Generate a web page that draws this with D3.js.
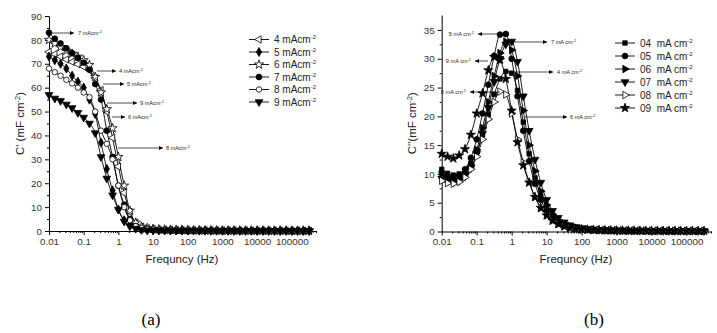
<!DOCTYPE html>
<html>
<head>
<meta charset="utf-8">
<script src="https://cdn.jsdelivr.net/npm/d3@7"></script>
<style>
body { margin: 0; background: #fff; }
svg { font-family: "Liberation Sans", Arial, sans-serif; }
</style>
</head>
<body>
<div id="chart"></div>
<script>
// Frequencies (Hz), shared by all series
var freqs = [0.01, 0.0147, 0.0215, 0.0316, 0.0464, 0.0681, 0.1, 0.147, 0.215, 0.316, 0.464, 0.681,
	1, 1.47, 2.15, 3.16, 4.64, 6.81, 10, 14.7, 21.5, 31.6, 46.4, 68.1, 100, 147, 215, 316, 464, 681,
	1000, 1470, 2150, 3160, 4640, 6810, 10000, 14700, 21500, 31600, 46400, 68100, 100000, 147000, 215000, 316000];

// (a) C' (mF cm-2)
var cp4 = [75, 74, 73, 71.8, 70.8, 69.8, 68.8, 67.3, 64, 59, 50, 39, 27, 16, 8, 3.5, 1.8, 1.1,
	0.8, 0.6, 0.5, 0.45, 0.4, 0.35, 0.32, 0.3, 0.28, 0.26, 0.25, 0.24, 0.22, 0.21, 0.2, 0.2, 0.19, 0.18, 0.17, 0.17, 0.16, 0.16, 0.15, 0.15, 0.14, 0.14, 0.13, 0.13];
var cp5 = [73, 71.5, 70, 68, 65, 62.5, 60, 55, 49, 37, 26, 17, 9, 4.5, 2.3, 1.2, 0.7, 0.5,
	0.4, 0.35, 0.3, 0.28, 0.26, 0.24, 0.22, 0.2, 0.19, 0.18, 0.17, 0.16, 0.15, 0.15, 0.14, 0.14, 0.13, 0.13, 0.12, 0.12, 0.11, 0.11, 0.1, 0.1, 0.1, 0.1, 0.09, 0.09];
var cp6 = [80, 78.5, 77, 75.5, 74.2, 73, 71.5, 69.5, 64.5, 58, 51, 43, 31, 19, 8.5, 3.5, 1.8, 1.2,
	0.9, 0.7, 0.6, 0.5, 0.45, 0.4, 0.36, 0.33, 0.3, 0.28, 0.26, 0.25, 0.24, 0.23, 0.22, 0.21, 0.2, 0.2, 0.19, 0.19, 0.18, 0.18, 0.17, 0.17, 0.16, 0.16, 0.15, 0.15];
var cp7 = [83, 80.5, 78.5, 76.5, 74.5, 72.5, 70.5, 67.5, 61.5, 55, 42, 31, 19, 11, 5, 2, 1, 0.6,
	0.45, 0.4, 0.35, 0.3, 0.28, 0.26, 0.24, 0.22, 0.2, 0.19, 0.18, 0.17, 0.16, 0.15, 0.15, 0.14, 0.14, 0.13, 0.13, 0.12, 0.12, 0.11, 0.11, 0.1, 0.1, 0.1, 0.1, 0.1];
var cp8 = [68, 66.5, 65, 63.3, 61.8, 60, 58, 56, 50, 42, 36.5, 30, 19, 10, 4.5, 2, 1.2, 0.8,
	0.6, 0.5, 0.45, 0.4, 0.36, 0.33, 0.3, 0.28, 0.26, 0.24, 0.22, 0.21, 0.2, 0.19, 0.18, 0.18, 0.17, 0.16, 0.16, 0.15, 0.15, 0.14, 0.14, 0.13, 0.13, 0.12, 0.12, 0.12];
var cp9 = [57, 55.5, 54.5, 53, 51.5, 49.5, 47.5, 45, 41, 31, 22, 15, 9, 4, 2, 1, 0.5, 0.35,
	0.3, 0.28, 0.25, 0.23, 0.21, 0.2, 0.19, 0.18, 0.17, 0.16, 0.15, 0.15, 0.14, 0.14, 0.13, 0.13, 0.12, 0.12, 0.11, 0.11, 0.1, 0.1, 0.1, 0.1, 0.09, 0.09, 0.09, 0.09];

// (b) C'' (mF cm-2)
var cpp4 = [10.8, 10.1, 9.8, 10.0, 10.6, 11.8, 13.8, 16.8, 20.3, 23.8, 26.5, 27.8, 27.5, 24.5, 19, 13.5, 9.3, 6.2,
	4.1, 2.7, 1.8, 1.2, 0.85, 0.6, 0.45, 0.38, 0.32, 0.28, 0.25, 0.22, 0.2, 0.18, 0.17, 0.16, 0.15, 0.14, 0.13, 0.13, 0.12, 0.12, 0.11, 0.11, 0.1, 0.1, 0.1, 0.1];
var cpp5 = [10.3, 9.6, 9.4, 9.8, 10.8, 12.8, 16, 20.5, 25.5, 30.5, 34.2, 34.3, 30, 23.5, 17.5, 12.2, 8.3, 5.5,
	3.6, 2.4, 1.6, 1.1, 0.8, 0.6, 0.45, 0.37, 0.31, 0.27, 0.24, 0.21, 0.19, 0.17, 0.16, 0.15, 0.14, 0.13, 0.13, 0.12, 0.12, 0.11, 0.11, 0.1, 0.1, 0.1, 0.1, 0.1];
var cpp6 = [9.8, 9.2, 9.0, 9.3, 10.1, 11.6, 14.2, 18, 22.5, 27, 31, 33, 31.5, 27, 21, 15, 10.5, 7,
	4.6, 3, 2, 1.4, 1, 0.7, 0.5, 0.4, 0.34, 0.3, 0.26, 0.23, 0.21, 0.19, 0.18, 0.17, 0.16, 0.15, 0.14, 0.14, 0.13, 0.13, 0.12, 0.12, 0.11, 0.11, 0.11, 0.1];
var cpp7 = [9.2, 8.7, 8.5, 8.8, 9.6, 11, 13.5, 17, 21.5, 26, 30, 32.5, 33, 29.5, 23.5, 17.5, 12.5, 8.5,
	5.5, 3.6, 2.4, 1.6, 1.1, 0.8, 0.6, 0.45, 0.37, 0.31, 0.27, 0.24, 0.21, 0.19, 0.18, 0.17, 0.16, 0.15, 0.14, 0.14, 0.13, 0.13, 0.12, 0.12, 0.11, 0.11, 0.1, 0.1];
var cpp8 = [8.8, 8.4, 8.3, 8.6, 9.4, 10.8, 13, 16, 19.5, 22.5, 24.3, 23.8, 20.5, 16, 12, 8.6, 6, 4.1,
	2.8, 1.9, 1.3, 0.9, 0.65, 0.5, 0.4, 0.33, 0.28, 0.25, 0.22, 0.2, 0.18, 0.17, 0.16, 0.15, 0.14, 0.13, 0.13, 0.12, 0.12, 0.11, 0.11, 0.1, 0.1, 0.1, 0.1, 0.1];
var cpp9 = [13.5, 13.0, 12.7, 13.2, 14.3, 16.8, 20.5, 24, 28, 30.3, 29.8, 26.5, 21, 15.5, 11.5, 8.5, 6, 4.1,
	2.8, 1.9, 1.3, 0.9, 0.65, 0.5, 0.4, 0.33, 0.28, 0.25, 0.22, 0.2, 0.18, 0.17, 0.16, 0.15, 0.14, 0.13, 0.13, 0.12, 0.12, 0.11, 0.11, 0.1, 0.1, 0.1, 0.1, 0.1];

// Labels and ticks
var leftLabels = ["4 mAcm", "5 mAcm", "6 mAcm", "7 mAcm", "8 mAcm", "9 mAcm"];
var rightLabels = ["04  mA cm", "05  mA cm", "06  mA cm", "07  mA cm", "08  mA cm", "09  mA cm"];
var xTickValues = [0.01, 0.1, 1, 10, 100, 1000, 10000, 100000];
var xTickLabels = ["0.01", "0.1", "1", "10", "100", "1000", "10000", "100000"];
var leftYTicks = [0, 10, 20, 30, 40, 50, 60, 70, 80, 90];
var rightYTicks = [0, 5, 10, 15, 20, 25, 30, 35];

var svg = d3.select("#chart").append("svg")
	.attr("width", 717)
	.attr("height", 333);

var defs = svg.append("defs");
defs.append("marker")
	.attr("id", "arr")
	.attr("viewBox", "0 0 10 10")
	.attr("refX", 10).attr("refY", 5)
	.attr("markerUnits", "userSpaceOnUse")
	.attr("markerWidth", 5).attr("markerHeight", 4)
	.attr("orient", "auto")
	.append("path").attr("d", "M0,0L10,5L0,10Z").attr("fill", "#000");

// marker shapes
var shapes = {
	triL:    { type: d3.symbolTriangle, size: 24, rot: -90, fill: "#fff" },
	diamond: { type: d3.symbolDiamond, size: 24, rot: 0, fill: "#000" },
	starO:   { type: d3.symbolStar, size: 26, rot: 0, fill: "#fff" },
	circle:  { type: d3.symbolCircle, size: 26, rot: 0, fill: "#000" },
	circleO: { type: d3.symbolCircle, size: 24, rot: 0, fill: "#fff" },
	triD:    { type: d3.symbolTriangle, size: 26, rot: 180, fill: "#000" },
	square:  { type: d3.symbolSquare, size: 20, rot: 0, fill: "#000" },
	triR:    { type: d3.symbolTriangle, size: 24, rot: 90, fill: "#000" },
	triRO:   { type: d3.symbolTriangle, size: 24, rot: 90, fill: "#fff" },
	star:    { type: d3.symbolStar, size: 26, rot: 0, fill: "#000" }
};

function drawMarker(g, shape, x, y) {
	var s = shapes[shape];
	g.append("path")
		.attr("d", d3.symbol().type(s.type).size(s.size)())
		.attr("transform", "translate(" + x + "," + y + ") rotate(" + s.rot + ")")
		.attr("fill", s.fill)
		.attr("stroke", "#000")
		.attr("stroke-width", 0.8);
}

function drawPanel(cfg) {
	var x = d3.scaleLog().domain([0.01, 500000]).range([cfg.left, cfg.right]);
	var y = d3.scaleLinear().domain([0, cfg.yMax]).range([cfg.bottom, cfg.top]);
	var g = svg.append("g");

	// minor x ticks
	var minors = [];
	for (var d = 0.01; d < 500000; d *= 10) {
		for (var k = 2; k <= 9; k++) { if (d * k <= 500000) minors.push(d * k); }
	}
	g.append("g").attr("transform", "translate(0," + cfg.bottom + ")")
		.call(d3.axisBottom(x).tickValues(minors).tickFormat("").tickSize(2).tickSizeOuter(0))
		.call(function(a) { a.select(".domain").remove(); });
	g.append("g").attr("transform", "translate(0," + cfg.bottom + ")")
		.call(d3.axisBottom(x).tickValues(xTickValues)
			.tickFormat(function(d, i) { return xTickLabels[i]; })
			.tickSize(4).tickSizeOuter(0).tickPadding(3))
		.call(function(a) {
			a.selectAll("text").attr("font-size", 9.8).attr("fill", "#333")
				.attr("font-family", "'Liberation Sans', Arial, sans-serif");
		});

	// y axis
	var yMinor = cfg.yTicks.slice(0, -1).map(function(v, i) { return (v + cfg.yTicks[i + 1]) / 2; });
	g.append("g").attr("transform", "translate(" + cfg.left + ",0)")
		.call(d3.axisLeft(y).tickValues(yMinor).tickFormat("").tickSize(2).tickSizeOuter(0))
		.call(function(a) { a.select(".domain").remove(); });
	g.append("g").attr("transform", "translate(" + cfg.left + ",0)")
		.call(d3.axisLeft(y).tickValues(cfg.yTicks).tickSize(4).tickSizeOuter(0).tickPadding(3))
		.call(function(a) {
			a.selectAll("text").attr("font-size", 9.8).attr("fill", "#333")
				.attr("font-family", "'Liberation Sans', Arial, sans-serif");
		});

	// axis titles
	g.append("text")
		.attr("x", cfg.xTitleX).attr("y", 263)
		.attr("text-anchor", "middle").attr("font-size", 11.5).attr("fill", "#222")
		.text("Frequncy (Hz)");
	var yt = g.append("text")
		.attr("transform", "translate(" + cfg.yTitleX + "," + ((cfg.top + cfg.bottom) / 2) + ") rotate(-90)")
		.attr("text-anchor", "middle").attr("font-size", 11.5).attr("fill", "#222");
	yt.append("tspan").text(cfg.yTitle);
	yt.append("tspan").attr("dy", -4).attr("font-size", 7.5).text("-2");
	yt.append("tspan").attr("dy", 4).text(")");

	// series
	var line = d3.line()
		.x(function(d, i) { return x(freqs[i]); })
		.y(function(d) { return y(d); })
		.curve(d3.curveMonotoneX);
	cfg.series.forEach(function(s) {
		g.append("path").attr("d", line(s.values))
			.attr("fill", "none").attr("stroke", "#000").attr("stroke-width", 0.9);
	});
	cfg.series.forEach(function(s) {
		var mg = g.append("g");
		s.values.forEach(function(v, i) { drawMarker(mg, s.shape, x(freqs[i]), y(v)); });
	});

	// legend
	cfg.series.forEach(function(s, i) {
		var ly = cfg.legY + i * cfg.legStep;
		g.append("line").attr("x1", cfg.legX).attr("x2", cfg.legX + 20)
			.attr("y1", ly).attr("y2", ly).attr("stroke", "#000").attr("stroke-width", 0.9);
		drawMarker(g, s.shape, cfg.legX + 10, ly);
		var t = g.append("text").attr("x", cfg.legX + 25).attr("y", ly + 3.5)
			.attr("font-size", 10).attr("fill", "#222").style("white-space", "pre");
		t.append("tspan").text(cfg.labels[i]);
		t.append("tspan").attr("dy", -4).attr("font-size", 6).text("-2");
	});

	// annotations
	cfg.notes.forEach(function(n) {
		g.append("line").attr("x1", n[0]).attr("x2", n[1]).attr("y1", n[2]).attr("y2", n[2])
			.attr("stroke", "#000").attr("stroke-width", 0.7).attr("marker-end", "url(#arr)");
		var t = g.append("text").attr("x", n[3]).attr("y", n[2] + 2)
			.attr("font-size", 5.6).attr("fill", "#222")
			.attr("text-anchor", n[4] ? "end" : "start");
		t.append("tspan").text(n[5]);
		t.append("tspan").attr("dy", -2).attr("font-size", 3.8).text("-2");
	});
}

drawPanel({
	left: 49, right: 316, top: 16, bottom: 231, yMax: 90, yTicks: leftYTicks,
	xTitleX: 182, yTitleX: 24, yTitle: "C' (mF cm",
	legX: 249, legY: 39.5, legStep: 12.5, labels: leftLabels,
	series: [
		{ values: cp4, shape: "triL" },
		{ values: cp5, shape: "diamond" },
		{ values: cp6, shape: "starO" },
		{ values: cp7, shape: "circle" },
		{ values: cp8, shape: "circleO" },
		{ values: cp9, shape: "triD" }
	],
	notes: [
		[52, 74, 33, 78, false, "7 mAcm"],
		[97, 116, 71, 119, false, "4 mAcm"],
		[103, 124, 84, 127, false, "5 mAcm"],
		[107, 137, 103, 140, false, "9 mAcm"],
		[112, 125, 117, 128, false, "6 mAcm"],
		[118, 163, 148, 166, false, "8 mAcm"]
	]
});

drawPanel({
	left: 441.7, right: 711, top: 15, bottom: 231.5, yMax: 37.6, yTicks: rightYTicks,
	xTitleX: 576, yTitleX: 416, yTitle: "C''(mF cm",
	legX: 615, legY: 43, legStep: 13, labels: rightLabels,
	series: [
		{ values: cpp4, shape: "square" },
		{ values: cpp5, shape: "circle" },
		{ values: cpp6, shape: "triR" },
		{ values: cpp7, shape: "triD" },
		{ values: cpp8, shape: "triRO" },
		{ values: cpp9, shape: "star" }
	],
	notes: [
		[500, 478, 34, 474, true, "5 mA cm"],
		[513, 547, 42, 551, false, "7 mA cm"],
		[488, 475, 61, 471, true, "9 mA cm"],
		[507, 553, 72, 557, false, "4 mA cm"],
		[500, 470, 92, 466, true, "8 mA cm"],
		[525, 567, 117, 570, false, "6 mA cm"]
	]
});

// panel captions
svg.append("text").attr("x", 151).attr("y", 325).attr("text-anchor", "middle")
	.attr("font-family", "'Liberation Serif', 'Times New Roman', serif").attr("font-size", 17)
	.text("(a)");
svg.append("text").attr("x", 594).attr("y", 325).attr("text-anchor", "middle")
	.attr("font-family", "'Liberation Serif', 'Times New Roman', serif").attr("font-size", 17)
	.text("(b)");
</script>
</body>
</html>
